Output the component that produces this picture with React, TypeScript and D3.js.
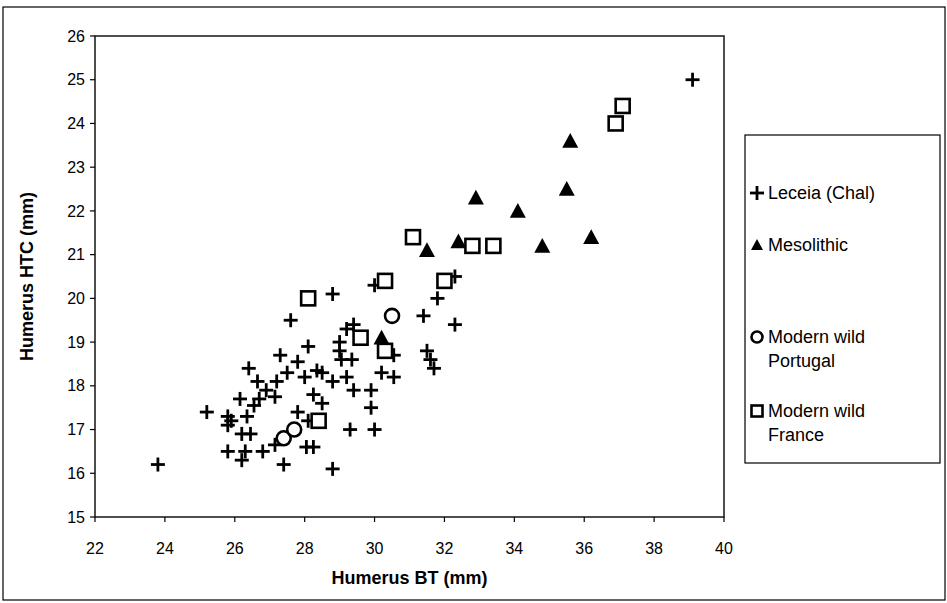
import React from "react";
import * as d3 from "d3";

const xTicks = [22, 24, 26, 28, 30, 32, 34, 36, 38, 40];
const yTicks = [15, 16, 17, 18, 19, 20, 21, 22, 23, 24, 25, 26];

const leceia: [number, number][] = [
  [23.8, 16.2], [25.2, 17.4], [25.8, 17.3], [25.9, 17.2], [25.8, 17.1], [25.8, 16.5],
  [26.15, 17.7], [26.2, 16.9], [26.2, 16.3], [26.3, 16.5], [26.35, 17.3], [26.4, 18.4],
  [26.45, 16.9], [26.55, 17.55], [26.65, 18.1], [26.7, 17.7], [26.8, 16.5], [26.9, 17.9],
  [27.15, 17.75], [27.15, 16.65], [27.2, 18.1], [27.3, 18.7], [27.4, 16.2], [27.5, 18.3],
  [27.6, 19.5], [27.8, 18.55], [27.8, 17.4], [28.0, 18.2], [28.1, 18.9], [28.05, 16.6],
  [28.25, 16.6], [28.1, 17.2], [28.25, 17.8], [28.35, 18.35], [28.5, 17.6], [28.5, 18.3],
  [28.8, 20.1], [28.8, 18.1], [28.8, 16.1], [29.0, 19.0], [29.0, 18.8], [29.05, 18.6],
  [29.2, 19.3], [29.2, 18.2], [29.35, 18.6], [29.4, 19.4], [29.4, 17.9], [29.3, 17.0],
  [29.9, 17.9], [29.9, 17.5], [30.0, 17.0], [30.0, 20.3], [30.2, 18.3], [30.55, 18.7],
  [30.55, 18.2], [31.4, 19.6], [31.5, 18.8], [31.6, 18.6], [31.7, 18.4], [31.8, 20.0],
  [32.3, 20.5], [32.3, 19.4], [39.1, 25.0],
];

const mesolithic: [number, number][] = [
  [30.2, 19.1], [31.5, 21.1], [32.4, 21.3], [32.9, 22.3], [34.1, 22.0],
  [34.8, 21.2], [35.5, 22.5], [35.6, 23.6], [36.2, 21.4],
];

const portugal: [number, number][] = [[27.4, 16.8], [27.7, 17.0], [30.5, 19.6]];

const france: [number, number][] = [
  [28.1, 20.0], [28.4, 17.2], [29.6, 19.1], [30.3, 18.8], [30.3, 20.4], [31.1, 21.4],
  [32.0, 20.4], [32.8, 21.2], [33.4, 21.2], [36.9, 24.0], [37.1, 24.4],
];

const W = 947;
const H = 603;
const plot = { left: 95, right: 724, top: 36, bottom: 517 };
const FONT = "'Liberation Sans', Arial, sans-serif";

const x = d3.scaleLinear().domain([22, 40]).range([plot.left, plot.right]);
const y = d3.scaleLinear().domain([15, 26]).range([plot.bottom, plot.top]);

const Cross = ({ cx, cy }: { cx: number; cy: number }) => (
  <g stroke="#000" strokeWidth={2.8}>
    <line x1={cx - 7} x2={cx + 7} y1={cy} y2={cy} />
    <line x1={cx} x2={cx} y1={cy - 7} y2={cy + 7} />
  </g>
);
const Tri = ({ cx, cy, s = 8 }: { cx: number; cy: number; s?: number }) => (
  <path d={`M${cx},${cy - s}L${cx + s},${cy + s * 0.85}L${cx - s},${cy + s * 0.85}Z`} fill="#000" />
);
const Circ = ({ cx, cy, r = 7 }: { cx: number; cy: number; r?: number }) => (
  <circle cx={cx} cy={cy} r={r} fill="#fff" stroke="#000" strokeWidth={2.6} />
);
const Sq = ({ cx, cy, s = 7 }: { cx: number; cy: number; s?: number }) => (
  <rect x={cx - s} y={cy - s} width={2 * s} height={2 * s} fill="#fff" stroke="#000" strokeWidth={2.6} />
);

export default function App() {
  const lx = 757;
  const tx = 768;
  return (
    <svg width={W} height={H} style={{ position: "absolute", left: 0, top: 0, background: "#fff" }}>
      <rect x={3} y={7} width={942} height={593} fill="#fff" stroke="#000" strokeWidth={1.2} />
      <rect x={plot.left} y={plot.top} width={plot.right - plot.left} height={plot.bottom - plot.top}
        fill="none" stroke="#222" strokeWidth={1.6} />
      {yTicks.map((t) => (
        <g key={"y" + t}>
          <line x1={plot.left - 5} x2={plot.left} y1={y(t)} y2={y(t)} stroke="#000" strokeWidth={1.2} />
          <text x={plot.left - 10} y={y(t)} dy="0.35em" textAnchor="end" fontFamily={FONT} fontSize={16}>{t}</text>
        </g>
      ))}
      {xTicks.map((t) => (
        <g key={"x" + t}>
          <line x1={x(t)} x2={x(t)} y1={plot.bottom} y2={plot.bottom + 5} stroke="#000" strokeWidth={1.2} />
          <text x={x(t)} y={plot.bottom + 37} textAnchor="middle" fontFamily={FONT} fontSize={16}>{t}</text>
        </g>
      ))}
      <text x={(plot.left + plot.right) / 2} y={plot.bottom + 67} textAnchor="middle" fontFamily={FONT}
        fontSize={18} fontWeight="bold">Humerus BT (mm)</text>
      <text transform={`translate(33,${(plot.top + plot.bottom) / 2}) rotate(-90)`} textAnchor="middle"
        fontFamily={FONT} fontSize={18} fontWeight="bold">Humerus HTC (mm)</text>

      {leceia.map((d, i) => <Cross key={"l" + i} cx={x(d[0])} cy={y(d[1])} />)}
      {mesolithic.map((d, i) => <Tri key={"m" + i} cx={x(d[0])} cy={y(d[1])} />)}
      {portugal.map((d, i) => <Circ key={"p" + i} cx={x(d[0])} cy={y(d[1])} />)}
      {france.map((d, i) => <Sq key={"f" + i} cx={x(d[0])} cy={y(d[1])} />)}

      <rect x={745} y={135} width={195} height={328} fill="#fff" stroke="#000" strokeWidth={1.2} />
      <Cross cx={lx} cy={193} />
      <text x={tx} y={193} dy="0.35em" fontFamily={FONT} fontSize={18}>Leceia (Chal)</text>
      <Tri cx={lx} cy={245} s={6} />
      <text x={tx} y={245} dy="0.35em" fontFamily={FONT} fontSize={18}>Mesolithic</text>
      <Circ cx={lx} cy={337} r={5.5} />
      <text x={tx} y={337} dy="0.35em" fontFamily={FONT} fontSize={18}>Modern wild</text>
      <text x={tx} y={361} dy="0.35em" fontFamily={FONT} fontSize={18}>Portugal</text>
      <Sq cx={lx} cy={411} s={5.5} />
      <text x={tx} y={411} dy="0.35em" fontFamily={FONT} fontSize={18}>Modern wild</text>
      <text x={tx} y={435} dy="0.35em" fontFamily={FONT} fontSize={18}>France</text>
    </svg>
  );
}
